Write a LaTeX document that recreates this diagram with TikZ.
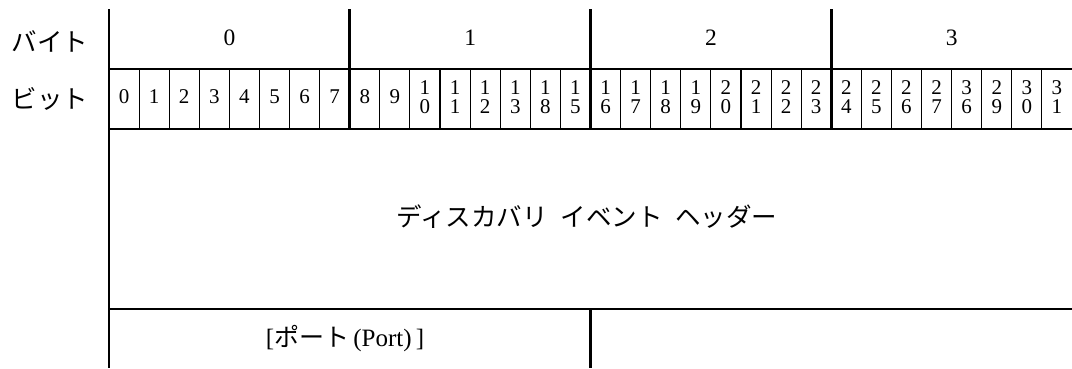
\documentclass[tikz,border=0pt]{standalone}
\usepackage{fontspec}
\setmainfont{Liberation Serif}
\newfontfamily\jp{Noto Sans CJK JP}
\usetikzlibrary{positioning}

\begin{document}
\begin{tikzpicture}[x=1pt,y=-1pt,
    frame/.style={line width=2.6pt},
    bitrule/.style={line width=1.1pt},
    rowlabel/.style={font=\jp\fontsize{25.5}{28}\selectfont},
    bytelabel/.style={font=\fontsize{23.5}{26}\selectfont},
    bitlabel/.style={align=center,inner sep=0pt,
                     font=\fontsize{21}{19}\selectfont},
    fieldlabel/.style={font=\fontsize{25}{28}\selectfont}]

  \useasboundingbox (0,0) rectangle (1072,368);

  % outer rules
  \draw [frame] (109,9) -- (109,368);
  \foreach \b in {1,2,3}
    \draw [frame] (109+240.75*\b,9) -- (109+240.75*\b,129);
  \draw [frame] (109,69) -- (1072,69);
  \draw [frame] (109,129) -- (1072,129);
  \draw [frame] (109,309) -- (1072,309);
  \draw [frame] (590.5,309) -- (590.5,368);

  % bit rules
  \foreach \b in {0,1,2,3}
    \foreach \j in {1,...,7}
      \draw [bitrule] (109+240.75*\b+30.09375*\j,69)
                   -- (109+240.75*\b+30.09375*\j,129);

  \node [rowlabel] (bytehead) at (50,41) {バイト};
  \node [rowlabel] (bithead) at (50,99) {ビット};

  \foreach \b in {0,1,2,3}
    \node [bytelabel] (byte\b) at (229.375+240.75*\b,38) {\b};

  \foreach \t [count=\i from 0] in {0,1,2,3,4,5,6,7,8,9,
      {1\\0},{1\\1},{1\\2},{1\\3},{1\\8},{1\\5},
      {1\\6},{1\\7},{1\\8},{1\\9},{2\\0},{2\\1},{2\\2},{2\\3},
      {2\\4},{2\\5},{2\\6},{2\\7},{3\\6},{2\\9},{3\\0},{3\\1}}
    \node [bitlabel] (bit\i) at (124.05+30.09375*\i,97) {\t};

  \node [rowlabel] (header) at (587,217)
        {ディスカバリ\hspace{0.5em}イベント\hspace{0.5em}ヘッダー};

  \node [fieldlabel] (port) at (345,339)
        {[{\jp ポート}\,(Port)\,]};

\end{tikzpicture}
\end{document}
